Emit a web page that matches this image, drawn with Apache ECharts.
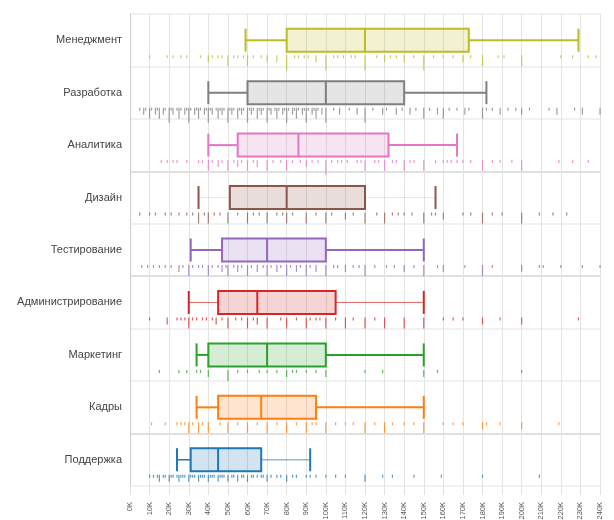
<!DOCTYPE html>
<html>
<head>
<meta charset="utf-8">
<script src="https://cdn.jsdelivr.net/npm/echarts@6/dist/echarts.min.js"></script>
<style>
  html, body { margin: 0; padding: 0; background: #fff; }
  #chart { width: 614px; height: 520px; }
</style>
</head>
<body>
<div id="chart"></div>
<script>
// salaries, thousands
const categories = ['Менеджмент', 'Разработка', 'Аналитика', 'Дизайн', 'Тестирование',
  'Администрирование', 'Маркетинг', 'Кадры', 'Поддержка'];
const colors = ['#bcbd22', '#7f7f7f', '#e377c2', '#8c564b', '#9467bd',
  '#d62728', '#2ca02c', '#ff7f0e', '#1f77b4'];

const whiskerLow  = [59, 40, 40, 35, 31, 30, 34, 34, 24];
const q1          = [80, 60, 55, 51, 47, 45, 40, 45, 31];
const medians     = [120, 100, 86, 80, 70, 65, 70, 67, 45];
const q3          = [173, 140, 132, 120, 100, 105, 100, 95, 67];
const whiskerHigh = [229, 182, 167, 156, 150, 150, 150, 150, 92];

const xTicks = [0, 10, 20, 30, 40, 50, 60, 70, 80, 90, 100, 110, 120, 130, 140, 150,
  160, 170, 180, 190, 200, 210, 220, 230, 240];

// rug: [value, how many people at that value]
const rugManagement = [[10,1],[19,1],[22,1],[26,1],[29,1],[36,1],[40,2],[42,1],[45,1],[47,1],[50,3],[53,1],[55,1],[58,1],[60,3],[63,1],[67,1],[70,2],[75,2],[80,4],[84,1],[86,1],[89,1],[91,1],[95,2],[100,4],[104,1],[106,1],[109,1],[113,1],[115,1],[120,4],[126,1],[130,2],[133,1],[136,1],[140,2],[145,1],[150,4],[155,1],[160,1],[165,1],[170,2],[174,1],[180,3],[188,1],[191,1],[200,3],[220,1],[226,1],[234,1],[238,1]];
const rugDev = [[5,1],[7,2],[8,1],[10,3],[11,1],[13,2],[14,1],[15,3],[17,2],[18,1],[20,4],[21,1],[22,2],[24,1],[25,3],[26,1],[28,2],[29,1],[30,4],[31,1],[33,2],[34,1],[35,3],[36,1],[38,2],[39,1],[40,4],[41,1],[42,2],[44,1],[45,3],[46,1],[47,2],[48,1],[50,4],[51,1],[52,2],[53,1],[55,3],[56,1],[57,2],[58,1],[60,4],[61,1],[62,2],[63,1],[65,3],[66,1],[67,2],[68,1],[70,4],[71,1],[72,2],[74,1],[75,3],[76,1],[78,2],[79,1],[80,4],[81,1],[83,2],[84,1],[85,3],[86,1],[88,2],[89,1],[90,4],[91,1],[93,2],[94,1],[95,3],[96,1],[98,2],[100,4],[104,1],[107,2],[112,1],[116,2],[120,4],[124,1],[129,2],[131,1],[136,2],[139,1],[143,2],[146,1],[150,3],[153,1],[157,2],[160,3],[163,1],[167,1],[171,2],[173,1],[180,3],[182,1],[185,1],[189,2],[193,1],[197,1],[200,2],[204,1],[214,1],[218,2],[227,1],[231,2],[240,2]];
const rugAnalytics = [[16,1],[19,1],[22,1],[24,1],[29,1],[35,1],[37,1],[40,3],[42,1],[45,2],[47,1],[50,3],[53,1],[55,2],[57,1],[60,3],[63,1],[65,2],[70,3],[73,1],[77,1],[80,3],[83,1],[87,1],[90,2],[93,1],[96,1],[100,4],[103,1],[106,1],[108,1],[111,1],[116,1],[118,1],[120,3],[125,1],[127,1],[130,3],[134,1],[136,1],[140,3],[143,1],[145,1],[150,3],[156,1],[160,1],[162,1],[164,1],[167,1],[170,1],[174,1],[180,3],[185,1],[189,1],[195,1],[200,3],[219,1],[226,1],[234,1]];
const rugDesign = [[5,1],[10,1],[13,1],[18,1],[21,1],[25,1],[29,1],[32,1],[35,3],[38,1],[40,3],[43,1],[46,1],[50,3],[55,1],[60,3],[63,1],[66,1],[70,3],[75,1],[78,1],[80,3],[83,1],[90,3],[95,1],[100,3],[103,1],[110,2],[114,1],[120,3],[126,1],[130,3],[134,1],[137,1],[140,1],[144,1],[150,3],[154,1],[156,1],[160,2],[170,1],[174,1],[180,3],[185,1],[190,1],[200,3],[209,1],[216,1],[223,1]];
const rugQa = [[6,1],[9,1],[12,1],[15,1],[18,1],[21,1],[25,2],[27,1],[30,3],[32,1],[35,1],[37,1],[40,3],[42,1],[45,1],[47,2],[49,1],[50,3],[53,1],[55,2],[57,1],[60,3],[62,1],[65,2],[68,1],[70,3],[72,1],[75,2],[77,1],[80,3],[82,1],[85,2],[87,1],[90,3],[92,1],[95,2],[100,3],[104,1],[106,1],[110,2],[114,1],[117,1],[120,3],[125,1],[131,1],[135,1],[140,2],[145,1],[150,3],[157,1],[160,2],[171,1],[180,3],[185,1],[200,2],[209,1],[211,1],[220,1],[231,1],[240,1]];
const rugAdmin = [[10,1],[19,2],[24,1],[26,1],[28,1],[30,3],[32,1],[34,1],[37,1],[39,1],[42,1],[44,2],[47,1],[50,3],[54,1],[57,1],[60,3],[63,1],[65,2],[70,3],[77,1],[80,3],[85,1],[90,3],[92,1],[95,1],[97,1],[100,3],[105,1],[110,3],[114,1],[120,3],[125,1],[130,3],[140,3],[150,3],[160,1],[165,1],[170,1],[180,2],[189,1],[200,2],[229,1]];
const rugMarketing = [[15,1],[25,1],[29,1],[34,1],[36,1],[40,2],[50,3],[55,1],[60,1],[66,1],[70,1],[75,1],[80,2],[83,1],[85,1],[90,1],[95,1],[100,2],[120,1],[129,1],[150,2],[157,1],[200,1]];
const rugHr = [[11,1],[18,1],[24,1],[26,1],[28,1],[30,3],[32,1],[35,3],[37,1],[40,3],[46,1],[50,3],[55,1],[60,3],[65,1],[70,3],[75,1],[80,3],[85,1],[90,3],[93,1],[95,1],[100,3],[105,1],[110,1],[114,1],[120,3],[125,1],[130,3],[134,1],[140,1],[145,1],[150,3],[160,1],[165,1],[170,1],[180,2],[182,1],[189,1],[200,2],[219,1]];
const rugSupport = [[10,1],[12,1],[14,1],[15,2],[17,1],[18,1],[20,2],[21,1],[22,1],[24,1],[25,2],[26,1],[27,1],[28,1],[30,2],[31,1],[32,1],[33,1],[35,2],[36,1],[37,1],[38,1],[40,2],[41,1],[42,1],[43,1],[45,2],[46,1],[47,1],[48,1],[50,2],[52,1],[53,1],[55,2],[57,1],[58,1],[60,2],[62,1],[63,1],[65,1],[67,1],[68,1],[70,2],[72,1],[75,1],[77,1],[80,2],[83,1],[85,1],[90,1],[92,1],[95,1],[100,1],[105,1],[110,1],[120,2],[129,1],[134,1],[145,1],[159,1],[180,1],[209,1]];

const rugs = [rugManagement, rugDev, rugAnalytics, rugDesign, rugQa, rugAdmin, rugMarketing, rugHr, rugSupport];

// whisker look per row: [left opacity, right opacity, width]
const whiskerLook = [[1,1,2],[1,1,2],[1,1,2],[0.15,0.15,1],[1,1,2],[0.7,0.7,1],[1,1,2],[1,1,2],[1,0.5,1.5]];

const fade = (c, a) => echarts.color.modifyAlpha(c, a);

let boxData = categories.map((c, i) => [i, whiskerLow[i], q1[i], medians[i], q3[i], whiskerHigh[i]]);
let rugData = [];
rugs.forEach((r, i) => r.forEach(p => rugData.push([p[0], i, p[1]])));

function renderBox(params, api) {
  let i = params.dataIndex;
  let cat = api.value(0);
  let yc = api.coord([0, cat])[1];
  let x = k => api.coord([api.value(k), cat])[0];
  let h = 11.5;
  let col = colors[i];
  let wl = whiskerLook[i];
  return {
    type: 'group',
    children: [
      { type: 'line', shape: { x1: x(1), y1: yc, x2: x(2), y2: yc },
        style: { stroke: fade(col, wl[0]), lineWidth: wl[2] } },
      { type: 'line', shape: { x1: x(4), y1: yc, x2: x(5), y2: yc },
        style: { stroke: fade(col, wl[1]), lineWidth: wl[2] } },
      { type: 'line', shape: { x1: x(1), y1: yc - h, x2: x(1), y2: yc + h },
        style: { stroke: col, lineWidth: 2 } },
      { type: 'line', shape: { x1: x(5), y1: yc - h, x2: x(5), y2: yc + h },
        style: { stroke: col, lineWidth: 2 } },
      { type: 'rect', shape: { x: x(2), y: yc - h, width: x(4) - x(2), height: 2 * h },
        style: { fill: fade(col, 0.2), stroke: col, lineWidth: 2 } },
      { type: 'line', shape: { x1: x(3), y1: yc - h, x2: x(3), y2: yc + h },
        style: { stroke: col, lineWidth: 2 } }
    ]
  };
}

function renderRug(params, api) {
  let cat = api.value(1);
  let p = api.coord([api.value(0), cat]);
  let len = 3 + (api.value(2) - 1) * 4;
  let top = p[1] + 15;
  return {
    type: 'line',
    shape: { x1: p[0], y1: top, x2: p[0], y2: top + len },
    style: { stroke: fade(colors[cat], 0.75), lineWidth: 1.2 }
  };
}

let chart = echarts.init(document.getElementById('chart'));
chart.setOption({
  animation: false,
  textStyle: { fontFamily: '"Liberation Sans", Arial, sans-serif' },
  grid: { left: 130, right: 14, top: 14, bottom: 34, outerBoundsMode: 'none' },
  xAxis: {
    type: 'value',
    min: 0,
    max: 240,
    interval: 10,
    axisLine: { show: false },
    axisTick: { show: true, length: 9, lineStyle: { color: '#e3e3e3' } },
    axisLabel: {
      rotate: 90, fontSize: 7.5, color: '#555', margin: 16,
      formatter: v => xTicks.indexOf(v) >= 0 ? v + 'K' : ''
    },
    splitLine: { show: true, lineStyle: { color: '#e3e3e3', width: 1 } }
  },
  yAxis: {
    type: 'category',
    inverse: true,
    data: categories,
    axisLine: { show: true, lineStyle: { color: '#cfcfcf' } },
    axisTick: { show: false },
    axisLabel: { color: '#444', fontSize: 11, margin: 8 },
    splitLine: {
      show: true,
      lineStyle: { color: ['#ececec', '#ececec', '#ececec', '#d6d6d6', '#ececec', '#d6d6d6', '#ececec', '#ececec', '#d6d6d6', '#ececec'], width: 1.5 }
    }
  },
  series: [
    {
      type: 'custom',
      renderItem: renderRug,
      data: rugData,
      encode: { x: 0, y: 1 },
      z: 2
    },
    {
      type: 'custom',
      renderItem: renderBox,
      data: boxData,
      encode: { x: [1, 2, 3, 4, 5], y: 0 },
      z: 3
    }
  ]
});
</script>
</body>
</html>
